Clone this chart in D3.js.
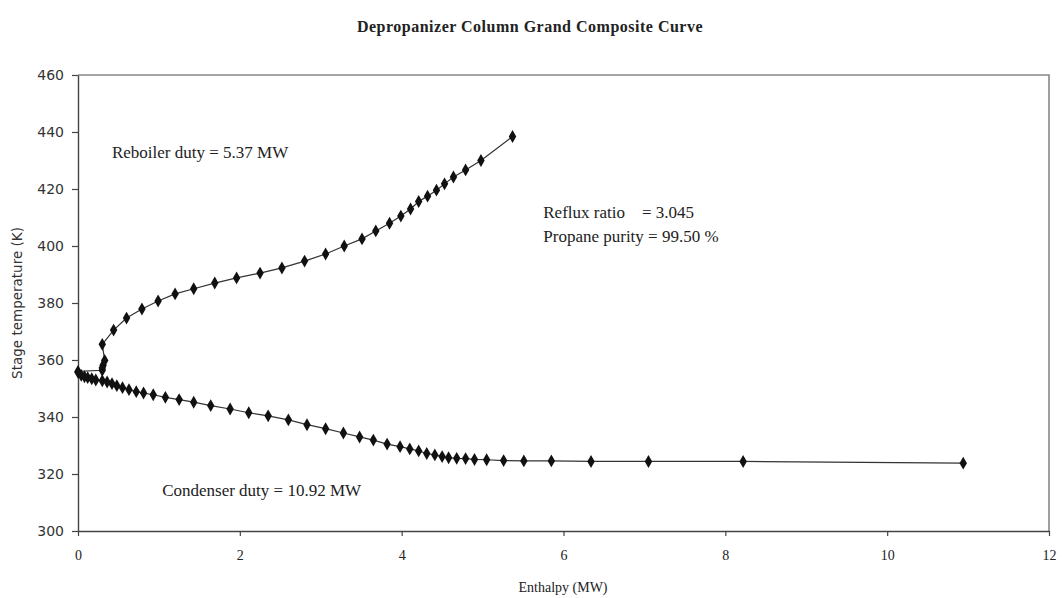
<!DOCTYPE html>
<html>
<head>
<meta charset="utf-8">
<script src="https://cdn.jsdelivr.net/npm/d3@7"></script>
<style>
  html, body { margin: 0; padding: 0; background: #fff; }
  svg { display: block; }
</style>
</head>
<body>
<svg id="chart" width="1062" height="598"></svg>
<script>
// Reboiler (upper) branch of the grand composite curve: enthalpy (MW), stage temperature (K)
const reboilerH = [0.00, 0.30, 0.30, 0.31, 0.33, 0.30, 0.44, 0.60, 0.79, 0.99, 1.20, 1.43, 1.69, 1.96, 2.25, 2.52, 2.80, 3.06, 3.29, 3.51, 3.68, 3.85, 3.99, 4.11, 4.21, 4.32, 4.43, 4.53, 4.64, 4.79, 4.98, 5.37];
const reboilerT = [356.0, 356.4, 357.2, 358.2, 359.8, 365.5, 370.5, 374.7, 377.9, 380.7, 383.2, 385.0, 387.0, 388.8, 390.5, 392.3, 394.7, 397.2, 400.0, 402.5, 405.3, 408.0, 410.5, 413.0, 415.6, 417.5, 419.6, 421.8, 424.2, 426.7, 430.0, 438.4];

// Condenser (lower) branch
const condenserH = [0.00, 0.04, 0.08, 0.12, 0.17, 0.22, 0.30, 0.36, 0.42, 0.48, 0.55, 0.63, 0.72, 0.81, 0.93, 1.08, 1.25, 1.43, 1.64, 1.88, 2.11, 2.35, 2.60, 2.83, 3.06, 3.28, 3.48, 3.65, 3.82, 3.98, 4.10, 4.21, 4.31, 4.41, 4.50, 4.58, 4.68, 4.79, 4.90, 5.05, 5.26, 5.51, 5.85, 6.34, 7.05, 8.22, 10.94];
const condenserT = [355.7, 354.6, 354.1, 353.8, 353.4, 353.0, 352.7, 352.3, 351.7, 351.0, 350.3, 349.6, 348.9, 348.4, 347.8, 346.9, 346.1, 345.2, 344.0, 342.8, 341.5, 340.4, 339.0, 337.3, 335.9, 334.4, 333.0, 331.9, 330.5, 329.6, 328.8, 328.1, 327.2, 326.7, 326.1, 325.7, 325.5, 325.4, 325.1, 325.0, 324.7, 324.6, 324.6, 324.4, 324.4, 324.4, 323.8];

const xTicks = [0, 2, 4, 6, 8, 10, 12];
const yTicks = [300, 320, 340, 360, 380, 400, 420, 440, 460];

const titleText = "Depropanizer Column Grand Composite Curve";
const xTitle = "Enthalpy (MW)";
const yTitle = "Stage temperature (K)";
const notes = [
  { text: "Reboiler duty = 5.37 MW", h: 0.42, t: 431.0 },
  { text: "Reflux ratio    = 3.045", h: 5.75, t: 409.8 },
  { text: "Propane purity = 99.50 %", h: 5.75, t: 401.4 },
  { text: "Condenser duty = 10.92 MW", h: 1.04, t: 312.4 }
];

const svg = d3.select("#chart");
const W = 1062, H = 598;
const m = { left: 78, right: 13, top: 75, bottom: 67 };

const x = d3.scaleLinear().domain([0, 12]).range([m.left, W - m.right]);
const y = d3.scaleLinear().domain([300, 460]).range([H - m.bottom, m.top]);

const serif = "'Liberation Serif', 'Times New Roman', serif";
const sans = "'DejaVu Sans', Verdana, sans-serif";

// Title
svg.append("text")
  .attr("x", 530).attr("y", 32)
  .attr("text-anchor", "middle")
  .attr("font-family", serif)
  .attr("font-weight", "bold")
  .attr("font-size", 16)
  .attr("letter-spacing", 0.5)
  .attr("fill", "#222")
  .text(titleText);

// Frame: top and right edges
svg.append("path")
  .attr("d", `M${x(0)},${y(460)}H${x(12)}V${y(300)}`)
  .attr("fill", "none")
  .attr("stroke", "#888")
  .attr("stroke-width", 1.6);

// Y axis
const yAxis = svg.append("g")
  .attr("transform", `translate(${m.left},0)`)
  .call(d3.axisLeft(y).tickValues(yTicks).tickSize(6).tickPadding(8).tickSizeOuter(0));
yAxis.select(".domain").attr("stroke", "#444").attr("stroke-width", 1.4);
yAxis.selectAll(".tick line").attr("stroke", "#444").attr("stroke-width", 1.2);
yAxis.selectAll(".tick text")
  .attr("font-family", sans).attr("font-size", 14).attr("fill", "#333");

// X axis
const xAxis = svg.append("g")
  .attr("transform", `translate(0,${H - m.bottom})`)
  .call(d3.axisBottom(x).tickValues(xTicks).tickSize(5).tickPadding(14).tickSizeOuter(0));
xAxis.select(".domain").attr("stroke", "#444").attr("stroke-width", 1.4);
xAxis.selectAll(".tick line").attr("stroke", "#444").attr("stroke-width", 1.2);
xAxis.selectAll(".tick text")
  .attr("font-family", serif).attr("font-size", 14).attr("fill", "#222");

// Axis titles
svg.append("text")
  .attr("x", 563).attr("y", 592)
  .attr("text-anchor", "middle")
  .attr("font-family", serif).attr("font-size", 14).attr("fill", "#222")
  .text(xTitle);

svg.append("text")
  .attr("transform", `translate(22,${(y(300) + y(460)) / 2}) rotate(-90)`)
  .attr("text-anchor", "middle")
  .attr("font-family", sans).attr("font-size", 13.5).attr("fill", "#333")
  .text(yTitle);

// Curves
const line = d3.line().x(d => x(d[0])).y(d => y(d[1]));
const reboiler = reboilerH.map((h, i) => [h, reboilerT[i]]);
const condenser = condenserH.map((h, i) => [h, condenserT[i]]);

const diamond = d3.symbol().type(d3.symbolDiamond).size(48);

[reboiler, condenser].forEach(series => {
  svg.append("path")
    .datum(series)
    .attr("d", line)
    .attr("fill", "none")
    .attr("stroke", "#333")
    .attr("stroke-width", 1.2);
  svg.append("g")
    .selectAll("path")
    .data(series)
    .join("path")
    .attr("transform", d => `translate(${x(d[0])},${y(d[1])})`)
    .attr("d", diamond)
    .attr("fill", "#111");
});

// Annotations
svg.append("g")
  .selectAll("text")
  .data(notes)
  .join("text")
  .attr("x", d => x(d.h))
  .attr("y", d => y(d.t))
  .attr("font-family", serif)
  .attr("font-size", 17)
  .attr("fill", "#222")
  .attr("xml:space", "preserve")
  .style("white-space", "pre")
  .text(d => d.text);
</script>
</body>
</html>
